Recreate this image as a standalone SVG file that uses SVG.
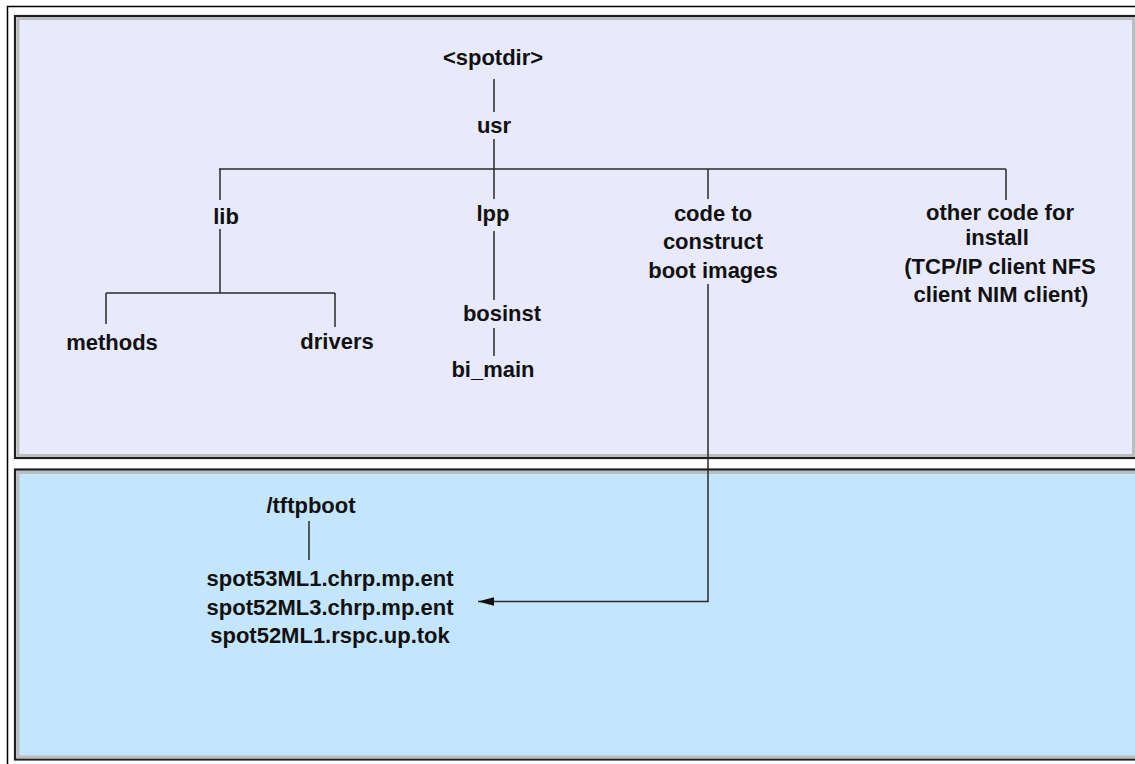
<svg xmlns="http://www.w3.org/2000/svg" width="1135" height="764" viewBox="0 0 1135 764">
  <defs>
    <style>
      .t { font-family: "Liberation Sans", Arial, sans-serif; font-weight: bold; font-size: 22px; fill: #111; text-anchor: middle; }
      .c { stroke: #2a2a2a; stroke-width: 1.5; fill: none; }
      .dark { stroke: #1e1e1e; stroke-width: 2.2; }
      .gray { fill: none; stroke: #bdbdbd; stroke-width: 3; }
      .p1 { fill: #e8eafc; }
      .p2 { fill: #c4e6fd; }
    </style>
    <marker id="arr" viewBox="0 0 16 10" refX="16" refY="5" markerWidth="16" markerHeight="10" markerUnits="userSpaceOnUse" orient="auto">
      <path d="M16,5 L0,0.8 L0,9.2 Z" fill="#111"/>
    </marker>
  </defs>
  <rect x="0" y="0" width="1135" height="764" fill="#ffffff"/>
  <rect x="7.5" y="6.5" width="1200" height="800" fill="none" stroke="#000" stroke-width="1.5"/>

  <g id="panel-spot">
    <rect x="15" y="16" width="1200" height="442" class="p1 dark"/>
    <rect x="18" y="18.5" width="1115.5" height="437" class="gray"/>
  </g>
  <g id="panel-tftp">
    <rect x="15" y="469.5" width="1200" height="290" class="p2 dark"/>
    <rect x="18" y="472.5" width="1200" height="284.5" class="gray"/>
  </g>

  <g id="connectors">
    <line class="c" x1="494" y1="79" x2="494" y2="112"/>
    <line class="c" x1="494" y1="139" x2="494" y2="169"/>
    <line class="c" x1="219" y1="169" x2="1006" y2="169"/>
    <line class="c" x1="220" y1="169" x2="220" y2="200"/>
    <line class="c" x1="494" y1="169" x2="494" y2="199"/>
    <line class="c" x1="708" y1="169" x2="708" y2="199"/>
    <line class="c" x1="1006" y1="169" x2="1006" y2="200"/>
    <line class="c" x1="220" y1="229" x2="220" y2="293"/>
    <line class="c" x1="106" y1="293" x2="335" y2="293"/>
    <line class="c" x1="106" y1="293" x2="106" y2="324"/>
    <line class="c" x1="335" y1="293" x2="335" y2="327"/>
    <line class="c" x1="494" y1="231" x2="494" y2="300"/>
    <line class="c" x1="494" y1="328" x2="494" y2="356"/>
    <line class="c" x1="309" y1="521" x2="309" y2="560"/>
    <path class="c" d="M708,284 L708,601.5 L478,601.5" marker-end="url(#arr)"/>
  </g>

  <g id="node-spotdir"><text class="t" x="493" y="65">&lt;spotdir&gt;</text></g>
  <g id="node-usr"><text class="t" x="494" y="133">usr</text></g>
  <g id="node-lib"><text class="t" x="226" y="224">lib</text></g>
  <g id="node-lpp"><text class="t" x="493" y="221">lpp</text></g>
  <g id="node-code">
    <text class="t" x="713" y="221">code to</text>
    <text class="t" x="713" y="249">construct</text>
    <text class="t" x="713" y="278">boot images</text>
  </g>
  <g id="node-other">
    <text class="t" x="1000" y="220">other code for</text>
    <text class="t" x="997" y="245">install</text>
    <text class="t" x="1000" y="274">(TCP/IP client NFS</text>
    <text class="t" x="1001" y="302">client NIM client)</text>
  </g>
  <g id="node-methods"><text class="t" x="112" y="350">methods</text></g>
  <g id="node-drivers"><text class="t" x="337" y="349">drivers</text></g>
  <g id="node-bosinst"><text class="t" x="502" y="321">bosinst</text></g>
  <g id="node-bimain"><text class="t" x="493" y="377">bi_main</text></g>
  <g id="node-tftpboot"><text class="t" x="311" y="513">/tftpboot</text></g>
  <g id="node-spots">
    <text class="t" x="330" y="586">spot53ML1.chrp.mp.ent</text>
    <text class="t" x="330" y="615">spot52ML3.chrp.mp.ent</text>
    <text class="t" x="330" y="643">spot52ML1.rspc.up.tok</text>
  </g>
</svg>
